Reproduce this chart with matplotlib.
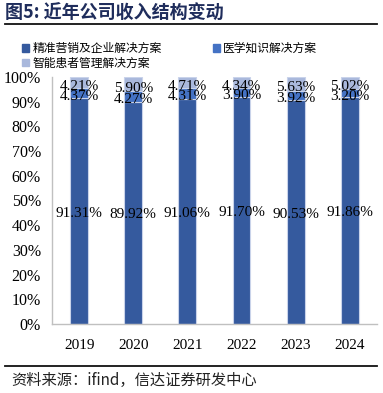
import matplotlib
matplotlib.use("Agg")
import matplotlib.pyplot as plt
from matplotlib.lines import Line2D
from matplotlib.patches import Patch
import numpy as np

years = ["2019", "2020", "2021", "2022", "2023", "2024"]
marketing = [91.31, 89.92, 91.06, 91.70, 90.53, 91.86]   # 精准营销及企业解决方案
knowledge = [4.37, 4.27, 4.31, 3.90, 3.92, 3.20]         # 医学知识解决方案
patient = [4.21, 5.90, 4.71, 4.34, 5.63, 5.02]           # 智能患者管理解决方案
series_names = ["精准营销及企业解决方案", "医学知识解决方案", "智能患者管理解决方案"]

cjk = ["Noto Sans CJK SC", "DejaVu Sans"]
serif = ["Liberation Serif", "DejaVu Serif"]
colors = ["#355a9e", "#4472c4", "#a9b8dc"]
edge = "#c9d3ea"

fig = plt.figure(figsize=(3.83, 3.93), dpi=100)
ax = fig.add_axes([0.136, 0.1756, 0.848, 0.6285])

x = np.arange(len(years))
w = 0.33
s1 = np.array(marketing)
s2 = np.array(knowledge)
s3 = np.array(patient)
ax.bar(x, s1, w, color=colors[0], edgecolor=edge, linewidth=0.8)
ax.bar(x, s2, w, bottom=s1, color=colors[1], edgecolor=edge, linewidth=0.8)
ax.bar(x, s3, w, bottom=s1 + s2, color=colors[2], edgecolor=edge, linewidth=0.8)

for i in range(len(years)):
    ax.text(x[i], s1[i] / 2 - 0.8, f"{s1[i]:.2f}%", ha="center", va="center",
            fontsize=11, family=serif)
    ax.text(x[i], s1[i] + s2[i] / 2 - 1.3, f"{s2[i]:.2f}%", ha="center", va="center",
            fontsize=11, family=serif)
    ax.text(x[i], s1[i] + s2[i] + s3[i] / 2 - 1.6, f"{s3[i]:.2f}%", ha="center", va="center",
            fontsize=11, family=serif)

ax.set_xlim(-0.5, len(years) - 0.5)
ax.set_ylim(0, 100)
ax.set_yticks(np.arange(0, 101, 10))
ax.set_yticklabels([f"{v}%" for v in range(0, 101, 10)], family=serif, fontsize=11.5)
ax.set_xticks(x)
ax.set_xticklabels(years, family=serif, fontsize=11)
ax.tick_params(axis="y", length=0, pad=8)
ax.tick_params(axis="x", length=0, pad=11)
for s in ["top", "right"]:
    ax.spines[s].set_visible(False)
for s in ["left", "bottom"]:
    ax.spines[s].set_color("#c0c0c0")
    ax.spines[s].set_linewidth(1.0)

# legend (row-wise order)
handles = [Patch(color=c) for c in colors]
order = [0, 2, 1]
fig.legend([handles[k] for k in order], [series_names[k] for k in order],
           ncol=2, loc="upper left", bbox_to_anchor=(0.045, 0.905),
           frameon=False, prop={"family": cjk, "size": 8.5},
           handlelength=0.6, handleheight=0.6, handletextpad=0.3,
           columnspacing=4.3, labelspacing=0.12, borderaxespad=0)

# title and rules
fig.text(0.013, 0.965, "图5: 近年公司收入结构变动", family=cjk, fontsize=13,
         fontweight="bold", color="#1f2d5c", va="center", ha="left")
fig.add_artist(Line2D([0.013, 0.985], [0.939, 0.939], color="#111111", lw=1.3))
fig.add_artist(Line2D([0.013, 0.985], [0.069, 0.069], color="#111111", lw=1.3))
fig.text(0.03, 0.033, "资料来源：ifind，信达证券研发中心", family=cjk, fontsize=11,
         style="italic", color="#222222", va="center", ha="left")

fig.savefig("out.png", dpi=100)
